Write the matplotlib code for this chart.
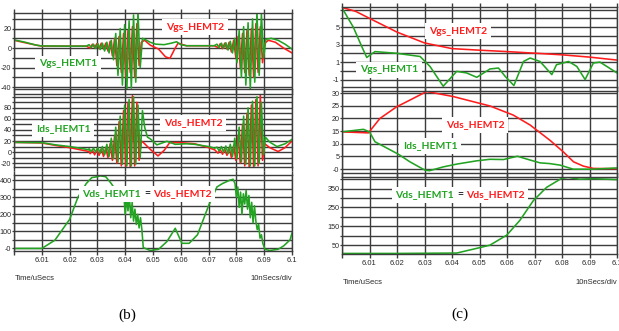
import matplotlib
matplotlib.use("Agg")
import matplotlib.pyplot as plt
import numpy as np
from matplotlib.offsetbox import TextArea, HPacker, AnnotationBbox

# ---- panel (b) data ----
t_vgs1_b = [6.000, 6.004, 6.008, 6.010, 6.020, 6.026,
            6.0270, 6.0278, 6.0286, 6.0294, 6.0302, 6.0310, 6.0318, 6.0326, 6.0334, 6.0342,
            6.0350, 6.0358, 6.0366, 6.0374, 6.0382, 6.0390, 6.0398, 6.0406, 6.0414, 6.0422,
            6.0430, 6.0438, 6.0446, 6.0454, 6.0462, 6.0470, 6.0490, 6.0510, 6.0540, 6.0565,
            6.0585, 6.0600, 6.0620, 6.0700, 6.0720,
            6.0730, 6.0738, 6.0746, 6.0754, 6.0762, 6.0770, 6.0778, 6.0786, 6.0794, 6.0802,
            6.0810, 6.0818, 6.0826, 6.0834, 6.0842, 6.0850, 6.0858, 6.0866, 6.0874, 6.0882,
            6.0890, 6.0898, 6.0906, 6.0925, 6.0950, 6.0975, 6.1000]
vgs1_b = [8.5, 6, 3, 2.2, 2.0, 2.0,
          3.5, 0.5, 4, -0.5, 4.5, -1.5, 5, -3, 6, -5,
          8, -12, 15, -28, 20, -38, 24, -42, 28, -41,
          34, -35, 37, -20, 10, 9, 6, 4, 3.5, 5,
          6.5, 3.5, 2.4, 2.4, 2.4,
          4, 0.5, 5, 0, 5.5, -2, 7, -5, 10, -15,
          18, -30, 22, -38, 26, -42, 30, -35, 37, -28,
          35, -10, 9, 10, 8, 4, -1]

t_vgs2_b = [6.000, 6.004, 6.008, 6.010, 6.020, 6.026,
            6.0274, 6.0282, 6.0290, 6.0298, 6.0306, 6.0314, 6.0322, 6.0330, 6.0338, 6.0346,
            6.0354, 6.0362, 6.0370, 6.0378, 6.0386, 6.0394, 6.0402, 6.0410, 6.0418, 6.0426,
            6.0434, 6.0442, 6.0450, 6.0458, 6.0470, 6.0490, 6.0520, 6.0545, 6.0561, 6.0578,
            6.0590, 6.0620, 6.0720,
            6.0734, 6.0742, 6.0750, 6.0758, 6.0766, 6.0774, 6.0782, 6.0790, 6.0798, 6.0806,
            6.0814, 6.0822, 6.0830, 6.0838, 6.0846, 6.0854, 6.0862, 6.0870, 6.0878, 6.0886,
            6.0894, 6.0902, 6.0915, 6.0940, 6.0970, 6.1000]
vgs2_b = [8, 5.5, 3, 2, 2, 2,
          0, 4, 0.5, 4.5, -0.5, 5, -1, 5, -3, 7,
          -8, 10, -18, 12, -25, 15, -30, 18, -25, 22,
          -30, 25, -18, 6, 8, 3, -1, -9, -10.5, -1,
          5, 2.4, 2.4,
          0.5, 4.5, -0.5, 5, -1, 6, -4, 8, -10, 12,
          -20, 15, -25, 18, -28, 20, -30, 25, -25, 22,
          -15, 5, 8, 6, 0, -5]

t_ids1_b = [6.000, 6.010, 6.015, 6.020, 6.025, 6.027,
            6.0270, 6.0278, 6.0286, 6.0294, 6.0302, 6.0310, 6.0318, 6.0326, 6.0334, 6.0342,
            6.0350, 6.0358, 6.0366, 6.0374, 6.0382, 6.0390, 6.0398, 6.0406, 6.0414, 6.0422,
            6.0430, 6.0438, 6.0446, 6.0454, 6.0462, 6.0470, 6.0480, 6.0490, 6.0514, 6.0550,
            6.0580, 6.0620, 6.0650, 6.0700, 6.0722,
            6.0730, 6.0738, 6.0746, 6.0754, 6.0762, 6.0770, 6.0778, 6.0786, 6.0794, 6.0802,
            6.0810, 6.0818, 6.0826, 6.0834, 6.0842, 6.0850, 6.0858, 6.0866, 6.0874, 6.0882,
            6.0890, 6.0898, 6.0904, 6.0920, 6.0946, 6.0975, 6.1000]
ids1_b = [17.5, 17, 13, 10, 6, 4,
          6, 1, 7, 0, 8, -2, 10, -5, 14, -8,
          25, -12, 45, -18, 65, -22, 85, -25, 95, -25,
          100, -22, 85, -10, 75, 45, 27, 24, 13, 19.5,
          14, 15, 14, 10, 7,
          9, 2, 10, 0, 11, -3, 14, -8, 25, -12,
          45, -18, 65, -22, 80, -25, 92, -25, 100, -20,
          90, -5, 27, 18, 10, 15, 23]

t_vds2_b = [6.000, 6.010, 6.015, 6.020, 6.025, 6.027,
            6.0274, 6.0282, 6.0290, 6.0298, 6.0306, 6.0314, 6.0322, 6.0330, 6.0338, 6.0346,
            6.0354, 6.0362, 6.0370, 6.0378, 6.0386, 6.0394, 6.0402, 6.0410, 6.0418, 6.0426,
            6.0434, 6.0442, 6.0450, 6.0458, 6.0468, 6.0490, 6.0518, 6.0540, 6.0560, 6.0600,
            6.0650, 6.0700, 6.0722,
            6.0734, 6.0742, 6.0750, 6.0758, 6.0766, 6.0774, 6.0782, 6.0790, 6.0798, 6.0806,
            6.0814, 6.0822, 6.0830, 6.0838, 6.0846, 6.0854, 6.0862, 6.0870, 6.0878, 6.0886,
            6.0894, 6.0902, 6.0920, 6.0950, 6.0975, 6.1000]
vds2_b = [17.5, 16.5, 12, 8, 3, 1,
          -3, 4, -5, 5, -6, 6, -8, 8, -10, 15,
          -15, 30, -20, 55, -25, 75, -27, 90, -27, 102,
          -25, 90, -15, 20, 16, 5, -7, 3, 17, 17,
          15, 8, 4,
          -2, 5, -4, 6, -6, 8, -10, 12, -15, 30,
          -20, 50, -25, 70, -27, 85, -27, 95, -25, 103,
          -15, 15, 8, 1, 8, 20]

t_vds_b = [6.000, 6.010, 6.0147, 6.020, 6.023, 6.026, 6.028, 6.030, 6.031, 6.033,
           6.035, 6.037, 6.0385, 6.039, 6.0395, 6.040, 6.0405, 6.041, 6.0415, 6.042,
           6.0425, 6.043, 6.0435, 6.044, 6.0445, 6.045, 6.0455, 6.046, 6.0465, 6.049,
           6.052, 6.055, 6.058, 6.0604, 6.063, 6.066, 6.070, 6.073, 6.075, 6.0777,
           6.0788, 6.0795, 6.080, 6.0805, 6.081, 6.0815, 6.082, 6.0825, 6.083, 6.0835,
           6.084, 6.0845, 6.085, 6.0855, 6.086, 6.0865, 6.087, 6.0875, 6.088, 6.0885,
           6.089, 6.0895, 6.0903, 6.092, 6.095, 6.097, 6.0993, 6.100]
vds_b = [0, 0, 48, 170, 300, 380, 415, 420, 425, 420,
         380, 330, 320, 290, 320, 200, 300, 220, 310, 180,
         270, 160, 230, 140, 200, 120, 180, 110, 5, -12,
         -5, 40, 118, 30, 30, 80, 250, 360, 380, 400,
         405, 380, 300, 360, 240, 330, 200, 320, 260, 340,
         230, 310, 180, 270, 150, 250, 160, 110, 140, 60,
         80, 30, -6, -12, -5, 15, 50, 90]

# ---- panel (c) data ----
t_vgs2_c = [6.000, 6.005, 6.010, 6.020, 6.030, 6.040, 6.050, 6.060, 6.070, 6.080, 6.090, 6.100]
vgs2_c = [7.25, 6.8, 6.0, 4.43, 3.19, 2.54, 2.36, 2.2, 2.02, 1.83, 1.57, 1.23]

t_vgs1_c = [6.000, 6.0041, 6.0072, 6.009, 6.012, 6.020, 6.0284, 6.032, 6.0368, 6.0417,
            6.0453, 6.049, 6.0538, 6.0569, 6.0593, 6.0625, 6.066, 6.0684, 6.072, 6.0763,
            6.078, 6.0824, 6.0854, 6.0884, 6.0914, 6.0938, 6.100]
vgs1_c = [7.2, 5.0, 2.77, 1.53, 2.2, 2.0, 1.64, 0.5, -1.76, -0.06,
          -0.24, -0.74, 0.21, 0.32, -0.62, -1.68, 1.07, 1.46, 1.07, -0.43,
          0.7, 1.07, 0.5, -1.0, 0.89, 1.0, -0.24]

t_vds2_c = [6.000, 6.0096, 6.0138, 6.0199, 6.0223, 6.0308, 6.0405, 6.0538, 6.0623, 6.0684,
            6.0756, 6.0805, 6.0842, 6.0878, 6.0914, 6.100]
vds2_c = [14.7, 14.3, 20, 24.6, 25.9, 30.6, 28.6, 24.9, 21.3, 17.4,
          11.4, 6.8, 2.9, 1.2, 0.3, 0.2]

t_ids1_c = [6.000, 6.0078, 6.010, 6.012, 6.0205, 6.0247, 6.0302, 6.0318, 6.0368, 6.0417,
            6.049, 6.0538, 6.0587, 6.0638, 6.0684, 6.072, 6.0756, 6.0793, 6.0841, 6.0914, 6.100]
ids1_c = [14.7, 15.7, 14.7, 10.8, 5.9, 2.9, -0.4, -0.6, 0.9, 2.0,
          3.3, 3.9, 3.8, 5.1, 3.6, 2.5, 2.2, 1.6, 0.0, 0.0, 0.5]

t_vds_c = [6.000, 6.020, 6.0417, 6.049, 6.0538, 6.0599, 6.0647, 6.0696, 6.0744, 6.0799,
           6.0823, 6.0864, 6.0914, 6.100]
vds_c = [6, 6, 8, 33, 50, 103, 182, 287, 357, 405,
         410, 400, 403, 398]

x_ticks = [6.00, 6.01, 6.02, 6.03, 6.04, 6.05, 6.06, 6.07, 6.08, 6.09, 6.10]
x_labels = ["", "6.01", "6.02", "6.03", "6.04", "6.05", "6.06", "6.07", "6.08", "6.09", "6.1"]

W, H = 619, 331
GREEN = "#22a322"
RED = "#ff1c1c"
GRID = "#3c3c3c"
TICKFONT = "Liberation Sans"
LW = 1.15

fig = plt.figure(figsize=(W / 100, H / 100), dpi=100)


def add_ax(x0, y0, x1, y1):
    return fig.add_axes([x0 / W, 1 - y1 / H, (x1 - x0) / W, (y1 - y0) / H])


def style(ax, ylim, yticks, ylabels, xlabels=False):
    ax.set_xlim(6.0, 6.1)
    ax.set_ylim(*ylim)
    ax.set_xticks(x_ticks)
    ax.set_xticklabels(x_labels if xlabels else [""] * len(x_ticks))
    ax.set_yticks(yticks)
    ax.set_yticklabels(ylabels)
    ax.grid(True, color=GRID, lw=1.0)
    ax.set_axisbelow(True)
    for s in ax.spines.values():
        s.set_color(GRID)
        s.set_linewidth(1.0)
    ax.tick_params(axis="y", direction="out", length=1.5, width=0.9, color=GRID,
                   pad=0.3, labelsize=5.2, labelcolor="#2a2a2a")
    # vertical grid lines run on through the gaps between the strips
    ax.tick_params(axis="x", direction="out", length=3, width=1.0, color=GRID,
                   pad=1, labelsize=5.5, labelcolor="#2a2a2a", top=True)
    for lab in ax.get_xticklabels() + ax.get_yticklabels():
        lab.set_family(TICKFONT)


def label(x, y, parts):
    areas = [TextArea(s, textprops=dict(color=c, fontsize=7.5, fontweight="bold", family="Lato"))
             for s, c in parts]
    box = HPacker(children=areas, align="baseline", pad=0, sep=2)
    ab = AnnotationBbox(box, (x, H - y), xycoords="figure pixels", frameon=True, pad=0.35,
                        fontsize=7.5, annotation_clip=False,
                        bboxprops=dict(facecolor="white", edgecolor="none"))
    ab.set_zorder(10)
    fig.add_artist(ab)


# ---- panel (b) ----
b1 = add_ax(14, 13, 292, 89)
b1.plot(t_vgs2_b, vgs2_b, color=RED, lw=LW)
b1.plot(t_vgs1_b, vgs1_b, color=GREEN, lw=LW)
style(b1, (-42, 36), [-40, -30, -20, -10, 0, 10, 20, 30],
      ["-40", "", "-20", "", "0", "", "20", ""])

b2 = add_ax(14, 94, 292, 167)
b2.plot(t_vds2_b, vds2_b, color=RED, lw=LW)
b2.plot(t_ids1_b, ids1_b, color=GREEN, lw=LW)
style(b2, (-27, 105), [-20, -10, 0, 10, 20, 30, 40, 50, 60, 70, 80, 90, 100],
      ["-20", "", "0", "", "20", "", "40", "", "60", "", "80", "", ""])

b3 = add_ax(14, 175, 292, 251)
b3.plot(t_vds_b, vds_b, color=GREEN, lw=LW)
style(b3, (-15, 430), [0, 50, 100, 150, 200, 250, 300, 350, 400],
      ["-0", "", "100", "", "200", "", "300", "", "400"], xlabels=True)

# ---- panel (c) ----
c1 = add_ax(342, 7, 617, 87)
c1.plot(t_vgs1_c, vgs1_c, color=GREEN, lw=LW)
c1.plot(t_vgs2_c, vgs2_c, color=RED, lw=LW)
style(c1, (-1.85, 7.3), [-1, 0, 1, 2, 3, 4, 5, 6, 7],
      ["-1", "", "1", "", "3", "", "5", "", ""])

c2 = add_ax(342, 91, 617, 173)
c2.plot(t_vds2_c, vds2_c, color=RED, lw=LW)
c2.plot(t_ids1_c, ids1_c, color=GREEN, lw=LW)
style(c2, (-1.5, 30.8), [0, 5, 10, 15, 20, 25, 30],
      ["-0", "5", "10", "15", "20", "25", "30"])

c3 = add_ax(342, 177, 617, 254)
c3.plot(t_vds_c, vds_c, color=GREEN, lw=LW)
style(c3, (3, 412), [50, 100, 150, 200, 250, 300, 350, 400],
      ["50", "", "150", "", "250", "", "350", ""], xlabels=True)

# ---- trace labels ----
label(195, 27, [("Vgs_HEMT2", RED)])
label(68, 64, [("Vgs_HEMT1", GREEN)])
label(63, 129, [("Ids_HEMT1", GREEN)])
label(193, 123, [("Vds_HEMT2", RED)])
label(147, 194, [("Vds_HEMT1", GREEN), ("=", "#222222"), ("Vds_HEMT2", RED)])

label(458, 31, [("Vgs_HEMT2", RED)])
label(389, 70, [("Vgs_HEMT1", GREEN)])
label(475, 125, [("Vds_HEMT2", RED)])
label(430, 146, [("Ids_HEMT1", GREEN)])
label(460, 195, [("Vds_HEMT1", GREEN), ("=", "#222222"), ("Vds_HEMT2", RED)])

# ---- footer texts ----
small = dict(fontsize=5.5, family=TICKFONT, color="#2a2a2a", va="center")
fig.text(15 / W, 1 - 278 / H, "Time/uSecs", ha="left", **small)
fig.text(292 / W, 1 - 278 / H, "10nSecs/div", ha="right", **small)
fig.text(343 / W, 1 - 282 / H, "Time/uSecs", ha="left", **small)
fig.text(617 / W, 1 - 282 / H, "10nSecs/div", ha="right", **small)

fig.text(127 / W, 1 - 315 / H, "(b)", ha="center", va="center", fontsize=11,
         family="Liberation Serif")
fig.text(460 / W, 1 - 314 / H, "(c)", ha="center", va="center", fontsize=11,
         family="Liberation Serif")

fig.savefig("out.png", dpi=100)
